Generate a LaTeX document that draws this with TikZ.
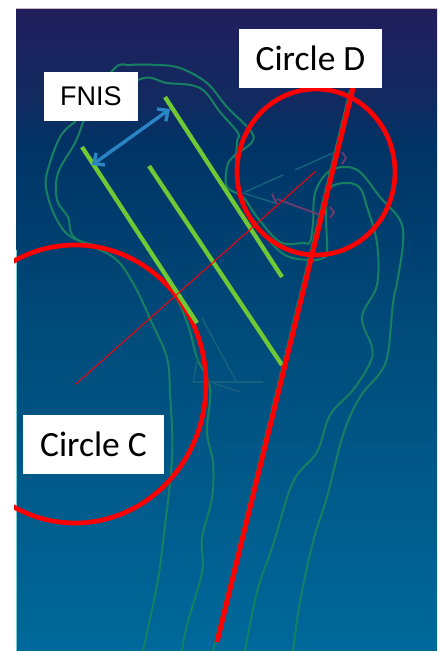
\documentclass[tikz,border=0pt]{standalone}
\usepackage{fontspec}
\setmainfont{Carlito}
\newfontfamily\fnisfont{Liberation Sans}
\usetikzlibrary{positioning,arrows.meta}
\definecolor{bone-green}{RGB}{24,128,98}
\definecolor{teal-faint}{RGB}{22,95,125}
\definecolor{mark-pink}{RGB}{110,60,110}
\definecolor{plane-green}{RGB}{112,200,52}
\definecolor{arrow-blue}{RGB}{42,133,197}
\definecolor{edge-cyan}{RGB}{125,205,215}
\definecolor{edge-pale}{RGB}{205,185,190}
\definecolor{bg-low}{RGB}{0,105,155}
\definecolor{bg-mid}{RGB}{0,75,122}
\definecolor{bg-upper}{RGB}{0,52,102}
\definecolor{bg-band}{RGB}{18,42,96}
\definecolor{bg-top}{RGB}{32,30,92}
\pgfdeclareverticalshading{bgshade}{100bp}{color(0bp)=(bg-low); color(25bp)=(bg-low); color(50bp)=(bg-mid); color(64bp)=(bg-upper); color(68bp)=(bg-band); color(75bp)=(bg-top); color(100bp)=(bg-top)}
\tikzstyle{bonestyle}=[draw=bone-green,line width=2pt]
\tikzstyle{faintstyle}=[draw=teal-faint,line width=1.6pt]
\tikzstyle{markstyle}=[draw=mark-pink,line width=1.8pt]
\tikzstyle{planestyle}=[draw=plane-green,line width=4.3pt]
\tikzstyle{ringstyle}=[draw=red,line width=4.7pt]
\tikzstyle{axisstyle}=[draw=red,line width=5pt]
\tikzstyle{labelstyle}=[shape=rectangle,fill=white,inner sep=0pt,text=black]
\newcommand{\bonecurve}[1]{ \draw [style=bonestyle] plot [smooth,tension=0.6] coordinates {#1}; }
\newcommand{\planeline}[3]{ \coordinate (#1a) at #2; \coordinate (#1b) at #3; \draw [style=planestyle] (#1a) -- (#1b); }
\begin{document}
\begin{tikzpicture}[x=1pt,y=-1pt]
\useasboundingbox (0,0) rectangle (437,651);
\shade [shading=bgshade] (16,8) rectangle (437,651);
\draw [edge-pale,line width=1pt] (16,8) -- (437,8);
\draw [edge-cyan,line width=1pt] (16,250) -- (16,651);
% head and neck, outer and inner
\bonecurve{(75,122) (60,137) (47,173) (47,193) (57,220) (73,238) (110,250) (147,267) (173,293) (188,325) (197,358) (210,388) (207,432) (213,462) (212,498) (202,538) (202,572) (187,625) (182,651)}
\bonecurve{(83,122) (75,143) (58,173) (57,200) (68,217) (75,238) (113,257) (133,283) (153,325) (167,358) (170,392) (172,458) (163,542) (157,585) (143,651)}
\bonecurve{(75,122) (113,70) (130,65) (157,65) (180,68) (207,83) (227,107) (250,130) (252,142) (233,157) (227,167) (227,187) (243,197) (257,217) (280,242) (303,243) (310,242) (313,223) (315,193) (327,173) (343,167) (360,172) (380,197) (400,220) (403,243) (397,283) (393,303) (388,353) (380,373) (360,397) (343,435) (327,497) (313,542) (300,602) (293,651)}
\bonecurve{(83,122) (138,80) (167,83) (200,88) (220,112) (238,133) (237,142) (236,170) (241,200) (262,232) (285,255) (310,260) (323,258) (327,250) (326,210) (330,188) (347,183) (360,188) (367,207) (377,243) (377,285) (362,317) (372,347) (370,363) (353,390) (330,415) (317,452) (293,482) (273,545) (257,592) (245,651)}
\coordinate (shafttop) at (350,90);
\coordinate (shaftend) at (213,651);
\draw [style=bonestyle] (shafttop) -- (shaftend);
% faint lines
\draw [style=faintstyle] (245,192) -- (283,175);
\draw [style=faintstyle] (295,170) -- (333,153);
\draw [style=faintstyle] (243,193) -- (275,203);
\draw [style=faintstyle] (202,318) -- (237,383);
\draw [style=faintstyle] (193,382) -- (263,382);
\draw [style=faintstyle] (213,383) -- (240,392);
\draw [style=faintstyle] (193,382) -- (198,357);
\draw [style=markstyle] (277,199) -- (320,215);
\draw [style=markstyle] (342,152) -- (346,158) -- (342,164);
\draw [style=markstyle] (272,194) -- (277,204);
\draw [style=markstyle] (330,207) -- (334,212) -- (330,218);
% circle c
\begin{scope}
\clip (14,0) rectangle (437,651);
\draw [style=ringstyle] (75,384) ellipse (131 and 139);
\end{scope}
% planes
\planeline{first}{(82,147)}{(197,323)}
\planeline{second}{(149,166)}{(282,365)}
\planeline{third}{(165,97)}{(282,277)}
\coordinate (fnisleft) at (92,165);
\coordinate (fnisright) at (170,109);
\draw [arrow-blue,line width=3.4pt,>={Straight Barb[length=8pt,width=15pt]},<->] (fnisleft) -- (fnisright);
% axis and circle d
\coordinate (neckend) at (316,171);
\coordinate (centrec) at (76,384);
\draw [red,line width=1pt] (neckend) -- (centrec);
\draw [style=ringstyle] (316,172) ellipse (79 and 83);
\coordinate (axistop) at (353,88);
\coordinate (axisend) at (217,642);
\draw [style=axisstyle] (axistop) -- (axisend);
% labels
\node [style=labelstyle,minimum width=94pt,minimum height=49pt] (fnis) at (91,96.5) {\fnisfont\fontsize{27}{30}\selectfont FNIS};
\node [style=labelstyle,minimum width=143pt,minimum height=59pt] (circled) at (310.5,58.5) {\fontsize{35.5}{40}\selectfont Circle D};
\node [style=labelstyle,minimum width=141pt,minimum height=59pt] (circlec) at (93.5,444.5) {\fontsize{35.5}{40}\selectfont Circle C};
\end{tikzpicture}
\end{document}
